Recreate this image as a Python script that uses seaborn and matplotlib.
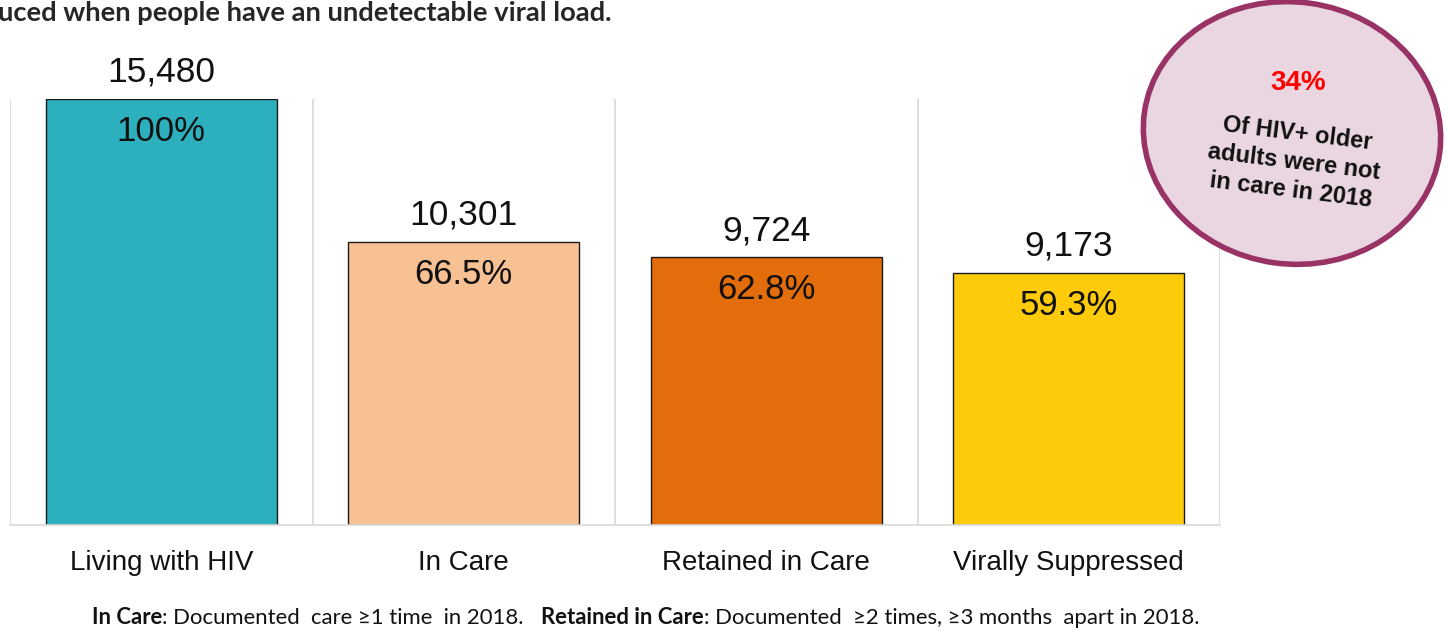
import matplotlib
matplotlib.use("Agg")
import matplotlib.pyplot as plt
import matplotlib.transforms as mtransforms
import pandas as pd
import seaborn as sns
from matplotlib.patches import Ellipse

categories = ["Living with HIV", "In Care", "Retained in Care", "Virally Suppressed"]
counts = [15480, 10301, 9724, 9173]
percents = ["100%", "66.5%", "62.8%", "59.3%"]
bar_colors = ["#2CB0BD", "#F8C193", "#E36C0B", "#FECB0A"]

title_text = "uced when people have an undetectable viral load."
callout_pct = "34%"
callout_text = "Of HIV+ older\nadults were not\nin care in 2018"
footnote_parts = [
    ("In Care", "bold"),
    (": Documented  care \u22651 time  in 2018.   ", "normal"),
    ("Retained in Care", "bold"),
    (": Documented  \u22652 times, \u22653 months  apart in 2018.", "normal"),
]

W, H = 1446, 631
sns.set_style("white")
plt.rcParams["font.family"] = ["Liberation Sans", "DejaVu Sans"]

df = pd.DataFrame({"stage": categories, "count": counts})

fig = plt.figure(figsize=(W / 100, H / 100), dpi=100)
ax = fig.add_axes([10 / W, 1 - 525 / H, 1210 / W, 426 / H])

sns.barplot(
    data=df, x="stage", y="count", hue="stage", palette=bar_colors,
    order=categories, hue_order=categories, width=0.765, saturation=1,
    edgecolor="#1a1a1a", linewidth=1.0, legend=False, ax=ax,
)

ax.set_xlim(-0.5, len(categories) - 0.5)
ax.set_ylim(0, max(counts))
ax.set_xlabel("")
ax.set_ylabel("")
ax.set_yticks([])
ax.set_xticks(range(len(categories)))
ax.set_xticklabels(categories, fontsize=20, color="#111111")
ax.tick_params(axis="x", length=0, pad=18)
ax.set_xticks([i - 0.5 for i in range(len(categories) + 1)], minor=True)
ax.grid(False)
ax.grid(True, which="minor", axis="x", color="#d9d9d9", linewidth=1.2)
ax.tick_params(axis="x", which="minor", length=0)
for side in ["top", "left", "right"]:
    ax.spines[side].set_visible(False)
ax.spines["bottom"].set_color("#d9d9d9")
ax.spines["bottom"].set_linewidth(1.2)

for i, (c, p) in enumerate(zip(counts, percents)):
    ax.annotate(f"{c:,}", (i, c), xytext=(0, 10), textcoords="offset pixels",
                ha="center", va="bottom", fontsize=25.5, color="#111111",
                annotation_clip=False)
    ax.annotate(p, (i, c), xytext=(0, -16), textcoords="offset pixels",
                ha="center", va="top", fontsize=25, color="#111111")

# title fragment (cut off at the left in the source)
fig.text(-2 / W, 1 - 13 / H, title_text, fontsize=19.7, fontweight="bold",
         family=["Lato", "DejaVu Sans"], ha="left", va="center")

# callout bubble
px = mtransforms.IdentityTransform()
bubble = Ellipse((1292, H - 133), 298, 262, angle=-8, transform=px,
                 facecolor="#E9D6E1", edgecolor="#993366", linewidth=4,
                 zorder=5)
fig.patches.append(bubble)
fig.text(1298 / W, 1 - 83 / H, callout_pct, color="#FF0000", fontsize=20,
         fontweight="bold", ha="center", va="center", zorder=6)
fig.text(1294 / W, 1 - 162 / H, callout_text, color="#111111", fontsize=17,
         fontweight="bold", ha="center", va="center", rotation=-7,
         linespacing=1.3, multialignment="center", zorder=6)

# footnote with mixed weights
renderer = fig.canvas.get_renderer()
x = 92
for txt, weight in footnote_parts:
    t = fig.text(x / W, 1 - 618 / H, txt, fontsize=15.9, fontweight=weight,
                 family=["Lato", "DejaVu Sans"], ha="left", va="center",
                 color="#111111")
    x = t.get_window_extent(renderer).x1

fig.savefig("out.png", dpi=100)
